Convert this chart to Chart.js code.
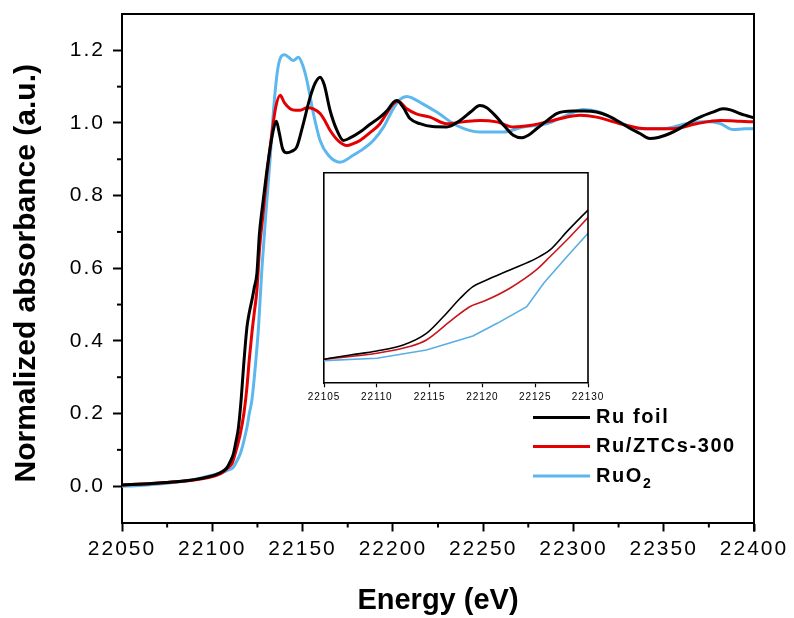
<!DOCTYPE html>
<html>
<head>
<meta charset="utf-8">
<title>Ru K-edge XANES</title>
<script src="https://cdn.jsdelivr.net/npm/chart.js@4.4.1/dist/chart.umd.min.js"></script>
<style>
  html, body { margin: 0; padding: 0; background: #ffffff; }
  #wrap { position: relative; width: 794px; height: 618px; }
  #main { position: absolute; left: 0; top: 0; }
  #inset { position: absolute; left: 300px; top: 160px; }
</style>
</head>
<body>
<div id="wrap">
  <canvas id="main" width="794" height="618"></canvas>
  <canvas id="inset" width="320" height="250"></canvas>
</div>
<script>
// ---- series names and axis titles ----
const seriesNames = ['Ru foil', 'Ru/ZTCs-300', 'RuO2'];
const xTitle = 'Energy (eV)';
const yTitle = 'Normalized absorbance (a.u.)';

// ---- axis ticks ----
const xTicks = [22050, 22100, 22150, 22200, 22250, 22300, 22350, 22400];
const yTicks = [0.0, 0.2, 0.4, 0.6, 0.8, 1.0, 1.2];
const insetTicks = [22105, 22110, 22115, 22120, 22125, 22130];

// ---- Ru foil: energy (eV) / normalized absorbance ----
const ruFoilE = [22050,22065,22080,22090,22098,22103,22106,22108,22110,22111.7,22113,22114.5,22116,22117.3,22119.2,22120.5,22121.9,22123.3,22124.7,22126.1,22127.5,22130,22132,22134,22135.5,22137,22139,22141.3,22144,22146.8,22150,22154.2,22157,22159.7,22162,22165.2,22169,22172.6,22176,22181.8,22187,22192.9,22197,22200.3,22202.2,22205.5,22209.5,22215,22222,22229.8,22237.2,22243,22248.2,22252,22257.5,22262,22266.7,22271.3,22275,22279.6,22285,22290.7,22299.9,22306,22312.8,22319,22325.7,22331,22336.8,22342.3,22347,22353.4,22359,22364.5,22371,22377.3,22382.8,22387,22392.1,22396,22400];
const ruFoilMu = [0.003,0.007,0.012,0.018,0.026,0.034,0.042,0.05,0.068,0.089,0.12,0.162,0.24,0.328,0.438,0.478,0.511,0.548,0.585,0.695,0.759,0.86,0.93,0.985,1.005,0.975,0.928,0.918,0.922,0.934,0.99,1.071,1.11,1.126,1.105,1.035,0.98,0.952,0.958,0.975,0.995,1.016,1.035,1.057,1.062,1.045,1.012,0.998,0.99,0.989,1.007,1.03,1.048,1.042,1.016,0.99,0.966,0.959,0.966,0.984,1.005,1.026,1.033,1.033,1.03,1.02,1.002,0.986,0.971,0.957,0.96,0.971,0.985,1.002,1.018,1.03,1.039,1.036,1.026,1.02,1.014];

// ---- Ru/ZTCs-300 ----
const ruZtcE = [22050,22065,22080,22090,22098,22103,22106,22108.5,22110.9,22113,22115.5,22117.5,22119.2,22120.5,22121.9,22123.3,22124.7,22126.1,22128.3,22130.5,22133,22135,22137.6,22140,22143.1,22146,22148.7,22152.5,22156,22159.7,22162.5,22165.2,22170,22174.5,22178,22181.8,22187,22192.9,22197,22200.3,22203,22207.7,22213,22220.6,22229.8,22239,22248.2,22257.5,22266.7,22275.9,22288.8,22296,22303.7,22312.8,22325.7,22340.5,22355.2,22368.1,22381.4,22392.1,22400];
const ruZtcMu = [0.003,0.007,0.012,0.017,0.024,0.031,0.039,0.05,0.062,0.095,0.144,0.2,0.273,0.35,0.42,0.48,0.539,0.649,0.759,0.87,0.97,1.04,1.076,1.055,1.039,1.035,1.035,1.042,1.039,1.026,1.005,0.98,0.95,0.938,0.943,0.952,0.972,0.998,1.03,1.053,1.06,1.039,1.025,1.016,0.998,1.003,1.007,1.003,0.989,0.993,1.007,1.016,1.021,1.016,0.998,0.984,0.984,0.998,1.007,1.005,1.003];

// ---- RuO2 ----
const ruO2E = [22050,22060,22075,22085,22093.3,22100,22105,22108.1,22111.7,22113.5,22115.5,22117.5,22119.2,22120.5,22121.9,22123.8,22125.6,22127.5,22129.8,22132,22134,22136,22138,22140,22142.5,22144.9,22147.7,22150,22152.4,22156,22159.7,22164.3,22170.8,22178,22184,22189.2,22195,22200.3,22204,22207.7,22211,22215,22224.3,22235.3,22248.2,22261.1,22272.2,22285.1,22296.2,22305.4,22314.6,22325.7,22336.8,22349.7,22362.6,22373.7,22381.4,22388.4,22395,22400];
const ruO2Mu = [0.0,0.002,0.008,0.014,0.022,0.03,0.037,0.043,0.052,0.068,0.089,0.125,0.162,0.2,0.236,0.328,0.438,0.6,0.759,0.9,1.04,1.14,1.182,1.188,1.18,1.172,1.181,1.16,1.117,1.026,0.952,0.911,0.892,0.911,0.93,0.952,0.99,1.04,1.065,1.073,1.068,1.057,1.03,0.993,0.975,0.975,0.989,0.998,1.021,1.037,1.03,1.002,0.984,0.984,0.998,1.004,0.998,0.982,0.984,0.984];

// ---- pre-edge close-up (22105-22130 eV) ----
const insetFoilE = [22105,22107.5,22110,22112.5,22114.7,22116.3,22117.9,22119.1,22120.4,22122.6,22125.1,22126.4,22128,22130];
const insetFoilMu = [0.02,0.041,0.061,0.091,0.149,0.232,0.324,0.382,0.415,0.465,0.523,0.565,0.656,0.764];
const insetZtcE = [22105,22110,22113.1,22114.7,22116.9,22118.8,22120.4,22122.6,22125.1,22126.4,22128.3,22130];
const insetZtcMu = [0.02,0.05,0.083,0.116,0.207,0.282,0.315,0.374,0.465,0.531,0.631,0.726];
const insetO2E = [22105,22110,22114.7,22119.1,22121.4,22124.2,22125.8,22128,22130];
const insetO2Mu = [0.013,0.025,0.066,0.136,0.199,0.282,0.399,0.531,0.648];

// ---- styling ----
const FONT = "'Liberation Sans', Arial, Helvetica, sans-serif";
const colors = ['#000000', '#e40000', '#5cb7ee'];
const insetColors = ['#000000', '#c8161c', '#5aaee6'];

const pts = (xs, ys) => xs.slice(0, Math.min(xs.length, ys.length)).map((x, i) => ({ x: x, y: ys[i] }));

// slightly widened lettering for tick labels
function spacingPlugin(px) {
  return {
    id: 'spacing',
    beforeDraw(chart) { chart.ctx.letterSpacing = px + 'px'; },
    afterDraw(chart) { chart.ctx.letterSpacing = '0px'; }
  };
}

// top/right frame lines and minor ticks
function framePlugin(opts) {
  return {
    id: 'frame',
    beforeDraw(chart) {
      if (!opts.fillArea) return;
      const a = chart.chartArea, ctx = chart.ctx;
      ctx.save();
      ctx.fillStyle = '#ffffff';
      ctx.fillRect(a.left, a.top, a.right - a.left, a.bottom - a.top);
      ctx.restore();
    },
    afterDraw(chart) {
      const a = chart.chartArea, ctx = chart.ctx;
      ctx.save();
      ctx.strokeStyle = '#000';
      ctx.lineWidth = opts.width;
      ctx.beginPath();
      ctx.moveTo(a.left - opts.width / 2, a.top);
      ctx.lineTo(a.right, a.top);
      ctx.lineTo(a.right, a.bottom + opts.rightExtra);
      ctx.stroke();
      const xs = chart.scales.x, ys = chart.scales.y;
      (opts.xMinor || []).forEach(v => {
        const px = xs.getPixelForValue(v);
        ctx.beginPath();
        ctx.moveTo(px, a.bottom);
        ctx.lineTo(px, a.bottom + opts.minorLen);
        ctx.stroke();
      });
      (opts.yMinor || []).forEach(v => {
        const py = ys.getPixelForValue(v);
        ctx.beginPath();
        ctx.moveTo(a.left, py);
        ctx.lineTo(a.left - opts.minorLen, py);
        ctx.stroke();
      });
      ctx.restore();
    }
  };
}

// axis titles, drawn without the extra letter spacing
const titlePlugin = {
  id: 'axisTitles',
  afterDraw(chart) {
    const ctx = chart.ctx, a = chart.chartArea;
    ctx.save();
    ctx.letterSpacing = '0px';
    ctx.fillStyle = '#000';
    ctx.textAlign = 'center';
    ctx.textBaseline = 'alphabetic';
    ctx.font = 'bold 29px ' + FONT;
    ctx.fillText(xTitle, (a.left + a.right) / 2, 609);
    ctx.translate(34.5, (a.top + a.bottom) / 2 + 5);
    ctx.rotate(-Math.PI / 2);
    ctx.font = 'bold 30px ' + FONT;
    ctx.fillText(yTitle, 0, 0);
    ctx.restore();
  }
};

// legend with line swatches; "RuO2" gets a subscript 2
const legendPlugin = {
  id: 'xasLegend',
  afterDraw(chart) {
    const ctx = chart.ctx;
    const x0 = 533, x1 = 590, tx = 596;
    const rows = [417.5, 446.5, 476];
    ctx.save();
    ctx.letterSpacing = '1.6px';
    chart.data.datasets.forEach((ds, i) => {
      const y = rows[i];
      ctx.strokeStyle = ds.borderColor;
      ctx.lineWidth = 3;
      ctx.beginPath();
      ctx.moveTo(x0, y);
      ctx.lineTo(x1, y);
      ctx.stroke();
      ctx.fillStyle = '#000';
      ctx.textBaseline = 'middle';
      ctx.textAlign = 'left';
      ctx.font = 'bold 20px ' + FONT;
      const m = ds.label.match(/^(.*?)(\d)$/);
      if (ds.label === 'RuO2' && m) {
        ctx.fillText(m[1], tx, y);
        const w = ctx.measureText(m[1]).width;
        ctx.font = 'bold 14px ' + FONT;
        ctx.fillText(m[2], tx + w, y + 8);
      } else {
        ctx.fillText(ds.label, tx, y);
      }
    });
    ctx.restore();
  }
};

new Chart(document.getElementById('main'), {
  type: 'line',
  data: {
    datasets: [
      { label: seriesNames[0], data: pts(ruFoilE, ruFoilMu), borderColor: colors[0] },
      { label: seriesNames[1], data: pts(ruZtcE, ruZtcMu), borderColor: colors[1] },
      { label: seriesNames[2], data: pts(ruO2E, ruO2Mu), borderColor: colors[2] }
    ]
  },
  options: {
    responsive: false,
    animation: false,
    devicePixelRatio: 1,
    layout: { padding: { left: 0, top: 14, right: 40, bottom: 0 } },
    elements: {
      point: { radius: 0 },
      line: { borderWidth: 3, cubicInterpolationMode: 'monotone', fill: false }
    },
    plugins: { legend: { display: false }, tooltip: { enabled: false } },
    scales: {
      x: {
        type: 'linear', min: 22050, max: 22400,
        afterBuildTicks: s => { s.ticks = xTicks.map(v => ({ value: v })); },
        afterFit: s => { s.height = 95.5; s.paddingLeft = 0; s.paddingRight = 0; },
        ticks: { color: '#000', font: { family: FONT, size: 21 }, padding: 5, maxRotation: 0, autoSkip: false,
                 callback: v => String(v) },
        grid: { drawOnChartArea: false, drawTicks: true, tickLength: 9, tickWidth: 2, tickColor: '#000' },
        border: { display: true, color: '#000', width: 2 }
      },
      y: {
        type: 'linear', min: -0.1, max: 1.3,
        afterBuildTicks: s => { s.ticks = yTicks.map(v => ({ value: v })); },
        afterFit: s => { s.width = 122; s.paddingTop = 0; s.paddingBottom = 0; },
        ticks: { color: '#000', font: { family: FONT, size: 21 }, padding: 8,
                 callback: v => Number(v).toFixed(1) },
        grid: { drawOnChartArea: false, drawTicks: true, tickLength: 9, tickWidth: 2, tickColor: '#000' },
        border: { display: true, color: '#000', width: 2 }
      }
    }
  },
  plugins: [
    spacingPlugin(2),
    framePlugin({ width: 2, rightExtra: 9, minorLen: 5,
                  xMinor: [22075, 22125, 22175, 22225, 22275, 22325, 22375],
                  yMinor: [0.1, 0.3, 0.5, 0.7, 0.9, 1.1] }),
    titlePlugin,
    legendPlugin
  ]
});

new Chart(document.getElementById('inset'), {
  type: 'line',
  data: {
    datasets: [
      { label: seriesNames[0], data: pts(insetFoilE, insetFoilMu), borderColor: insetColors[0], cubicInterpolationMode: 'monotone' },
      { label: seriesNames[1], data: pts(insetZtcE, insetZtcMu), borderColor: insetColors[1], cubicInterpolationMode: 'monotone' },
      { label: seriesNames[2], data: pts(insetO2E, insetO2Mu), borderColor: insetColors[2], tension: 0 }
    ]
  },
  options: {
    responsive: false,
    animation: false,
    devicePixelRatio: 1,
    layout: { padding: { left: 0, top: 12.7, right: 32, bottom: 0 } },
    elements: { point: { radius: 0 }, line: { borderWidth: 1.6, fill: false } },
    plugins: { legend: { display: false }, tooltip: { enabled: false } },
    scales: {
      x: {
        type: 'linear', min: 22105, max: 22130,
        afterBuildTicks: s => { s.ticks = insetTicks.map(v => ({ value: v })); },
        afterFit: s => { s.height = 26.7; s.paddingLeft = 0; s.paddingRight = 0; },
        ticks: { color: '#000', font: { family: FONT, size: 10 }, padding: 4, maxRotation: 0, autoSkip: false,
                 callback: v => String(v) },
        grid: { drawOnChartArea: false, drawTicks: true, tickLength: 4, tickWidth: 1.2, tickColor: '#000' },
        border: { display: true, color: '#000', width: 1.6 }
      },
      y: {
        type: 'linear', min: -0.1, max: 0.95,
        afterFit: s => { s.width = 24; s.paddingTop = 0; s.paddingBottom = 0; },
        ticks: { display: false },
        grid: { drawOnChartArea: false, drawTicks: false },
        border: { display: true, color: '#000', width: 1.6 }
      }
    }
  },
  plugins: [
    spacingPlugin(0.9),
    framePlugin({ width: 1.6, rightExtra: 0, minorLen: 0, fillArea: true })
  ]
});
</script>
</body>
</html>
